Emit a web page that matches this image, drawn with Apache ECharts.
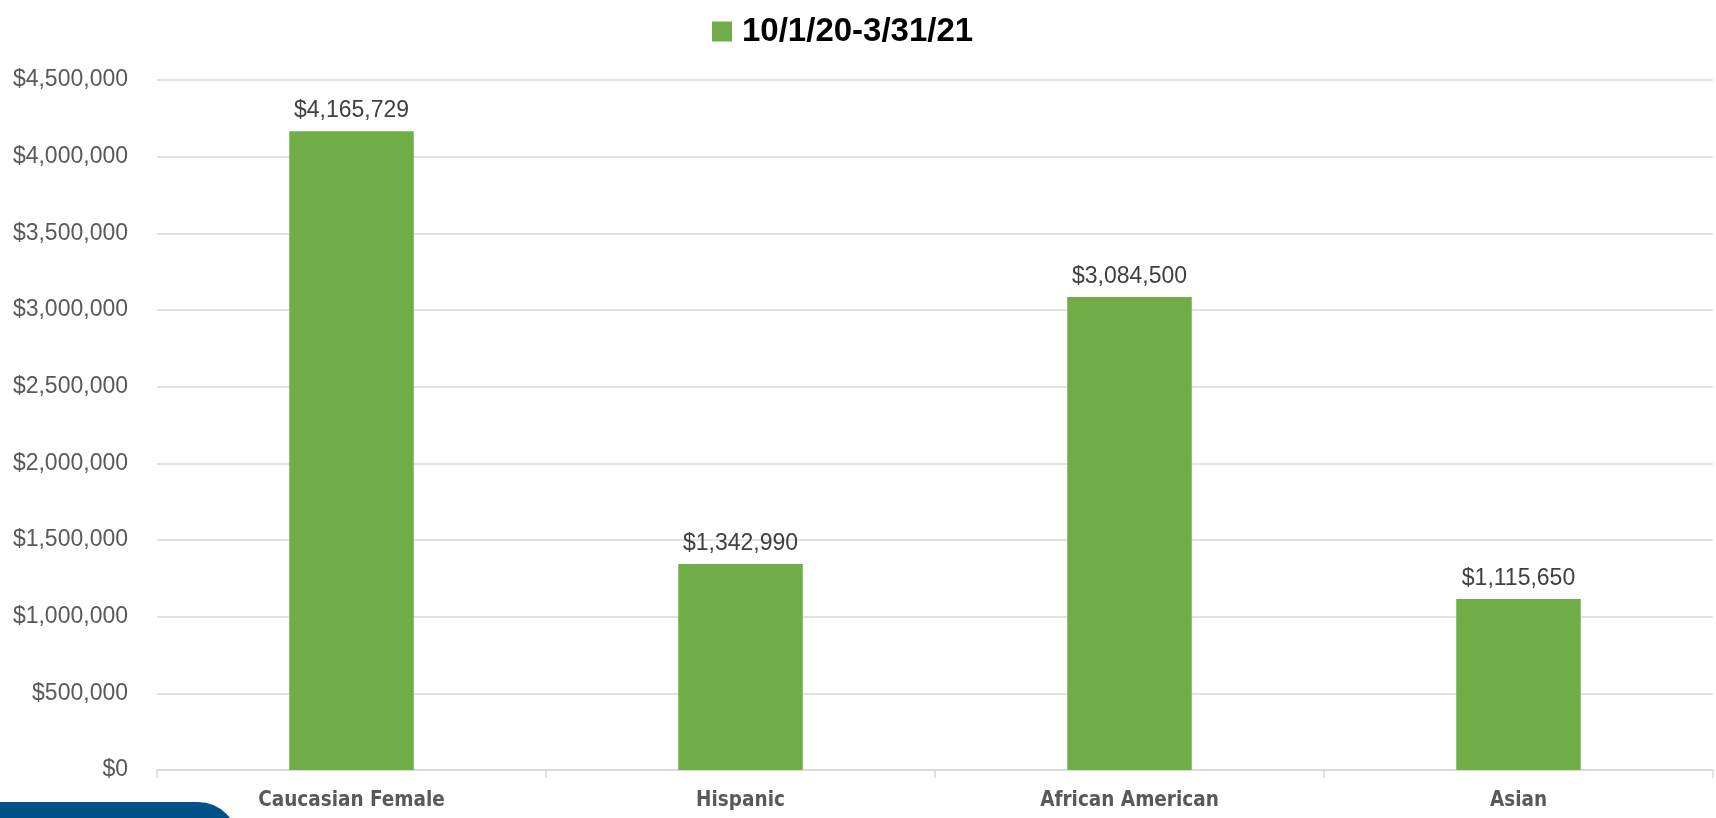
<!DOCTYPE html>
<html>
<head>
<meta charset="utf-8">
<script src="https://cdn.jsdelivr.net/npm/echarts@6/dist/echarts.min.js"></script>
<style>
  html, body { margin: 0; padding: 0; background: #ffffff; }
  #chart { width: 1716px; height: 818px; }
</style>
</head>
<body>
<div id="chart"></div>
<script>
// Spending by group, 10/1/20 – 3/31/21
const seriesName = '10/1/20-3/31/21';
const categories = ['Caucasian Female', 'Hispanic', 'African American', 'Asian'];
const amounts = [4165729, 1342990, 3084500, 1115650];
const yMin = 0;
const yMax = 4500000;
const yStep = 500000;

const money = v => '$' + Math.round(v).toLocaleString('en-US');

const chart = echarts.init(document.getElementById('chart'), null, { renderer: 'canvas' });

chart.setOption({
  backgroundColor: '#ffffff',
  animation: false,
  legend: {
    data: [seriesName],
    left: 707,
    top: 10,
    itemWidth: 20,
    itemHeight: 20,
    icon: 'rect',
    textStyle: {
      fontFamily: 'Liberation Sans',
      fontWeight: 'bold',
      fontSize: 33,
      color: '#000000',
      padding: [0, 0, 0, 5]
    }
  },
  grid: { left: 157, right: 3, top: 80, bottom: 48, containLabel: false },
  xAxis: {
    type: 'category',
    data: categories,
    axisLine: { show: true, lineStyle: { color: '#d9d9d9', width: 1.5 } },
    axisTick: { show: true, length: 8, lineStyle: { color: '#d9d9d9', width: 1.5 } },
    axisLabel: {
      margin: 20,
      fontFamily: '"DejaVu Sans Condensed", "Liberation Sans"',
      fontWeight: 'bold',
      fontSize: 20.5,
      color: '#595959'
    }
  },
  yAxis: {
    type: 'value',
    min: yMin,
    max: yMax,
    interval: yStep,
    axisLine: { show: false },
    axisTick: { show: false },
    splitLine: { lineStyle: { color: '#d9d9d9', width: 1.5 } },
    axisLabel: {
      margin: 29,
      fontFamily: 'Liberation Sans',
      fontSize: 23,
      color: '#595959',
      formatter: money
    }
  },
  series: [{
    name: seriesName,
    type: 'bar',
    data: amounts,
    barWidth: '32%',
    itemStyle: { color: '#70ad47' },
    label: {
      show: true,
      position: 'top',
      distance: 9,
      fontFamily: 'Liberation Sans',
      fontSize: 23,
      color: '#404040',
      formatter: p => money(p.value)
    }
  }],
  graphic: [{
    type: 'rect',
    left: 0,
    top: 802,
    shape: { width: 238, height: 40, r: [0, 44, 0, 0] },
    style: { fill: '#00508a' },
    silent: true
  }]
});
</script>
</body>
</html>
